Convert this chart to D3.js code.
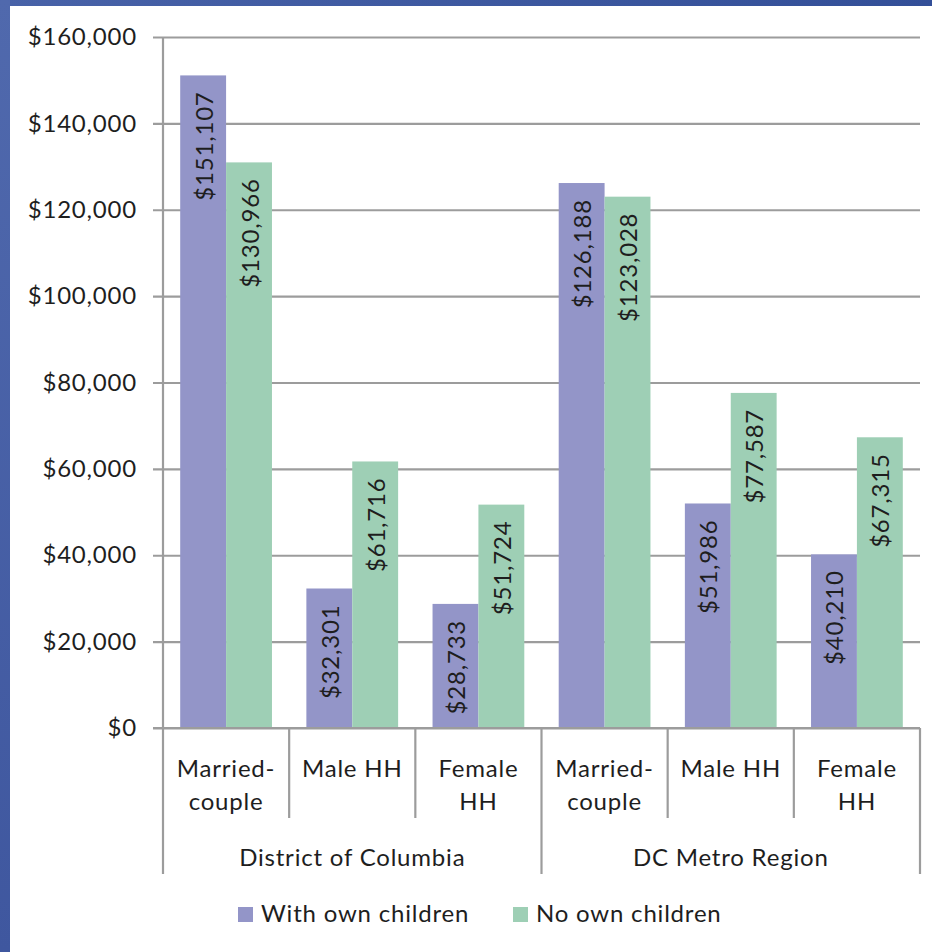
<!DOCTYPE html>
<html>
<head>
<meta charset="utf-8">
<script src="https://cdn.jsdelivr.net/npm/d3@7"></script>
<style>
  html, body { margin: 0; padding: 0; background: #fff; }
  svg { display: block; }
  text { font-family: Lato, "Open Sans", sans-serif; fill: #1e1e1e; letter-spacing: 0.8px; }
</style>
</head>
<body>
<svg id="chart" width="932" height="952"></svg>
<script>
// ---- data ----
const groups = ["District of Columbia", "DC Metro Region"];
const categories = ["Married-couple", "Male HH", "Female HH"];
const categoryLines = [["Married-", "couple"], ["Male HH"], ["Female", "HH"]];
const seriesNames = ["With own children", "No own children"];
const withChildren = [151107, 32301, 28733, 126188, 51986, 40210];
const noChildren   = [130966, 61716, 51724, 123028, 77587, 67315];
const yTicks = [0, 20000, 40000, 60000, 80000, 100000, 120000, 140000, 160000];

// ---- layout ----
const W = 932, H = 952;
const plotL = 163, plotR = 920, plotT = 37, plotB = 728;
const colors = ["#9395c8", "#9ecfb5"];
const gridColor = "#9c9c9c";
const FS = 24;

const svg = d3.select("#chart");

// background frame (blue border)
const defs = svg.append("defs");
const lg = defs.append("linearGradient").attr("id", "leftG").attr("x1", 0).attr("y1", 0).attr("x2", 0).attr("y2", 1);
lg.append("stop").attr("offset", "0%").attr("stop-color", "#5069ad");
lg.append("stop").attr("offset", "100%").attr("stop-color", "#3f579f");
const tg = defs.append("linearGradient").attr("id", "topG").attr("x1", 0).attr("y1", 0).attr("x2", 1).attr("y2", 0);
tg.append("stop").attr("offset", "0%").attr("stop-color", "#4862a8");
tg.append("stop").attr("offset", "100%").attr("stop-color", "#334f98");
svg.append("rect").attr("x", 0).attr("y", 0).attr("width", W).attr("height", H).attr("fill", "#fff");
svg.append("rect").attr("x", 0).attr("y", 0).attr("width", W).attr("height", 6).attr("fill", "url(#topG)");
svg.append("rect").attr("x", 0).attr("y", 0).attr("width", 10).attr("height", H).attr("fill", "url(#leftG)");

// ---- scales ----
const y = d3.scaleLinear().domain([0, 160000]).range([plotB, plotT]);
const keys = [];
groups.forEach(g => categories.forEach(c => keys.push(g + "|" + c)));
const xCat = d3.scaleBand().domain(keys).range([plotL, plotR]).padding(0);
const xSer = d3.scaleBand().domain(seriesNames).range([0, xCat.bandwidth()]).paddingInner(0).paddingOuter(0.375);
const xGroup = d3.scaleBand().domain(groups).range([plotL, plotR]).padding(0);

// ---- gridlines + y axis ----
const fmt = d => "$" + d3.format(",")(d);
const yAxis = d3.axisLeft(y).tickValues(yTicks).tickFormat(fmt)
  .tickSizeInner(-(plotR - plotL)).tickSizeOuter(0).tickPadding(26);
const gy = svg.append("g").attr("transform", `translate(${plotL},0)`).call(yAxis);
gy.select(".domain").remove();
gy.selectAll(".tick line").attr("stroke", gridColor).attr("stroke-width", 2.2).attr("x1", -10);
gy.selectAll(".tick text").attr("font-size", FS).attr("fill", "#1e1e1e").attr("font-family", "Lato, sans-serif");

// ---- bars ----
const rows = keys.map((k, i) => ({ key: k, vals: [withChildren[i], noChildren[i]] }));
const barG = svg.append("g");
rows.forEach(r => {
  r.vals.forEach((v, si) => {
    const x0 = xCat(r.key) + xSer(seriesNames[si]);
    barG.append("rect")
      .attr("x", x0).attr("y", y(v))
      .attr("width", xSer.bandwidth()).attr("height", y(0) - y(v))
      .attr("fill", colors[si]);
    barG.append("text")
      .attr("transform", `translate(${x0 + xSer.bandwidth() / 2},${y(v) + 16}) rotate(-90)`)
      .attr("text-anchor", "end").attr("dominant-baseline", "central")
      .attr("font-size", FS)
      .text(fmt(v));
  });
});

// ---- axes lines ----
svg.append("line").attr("x1", plotL - 10).attr("x2", plotR).attr("y1", plotB).attr("y2", plotB)
  .attr("stroke", gridColor).attr("stroke-width", 2.2);
svg.append("line").attr("x1", plotL).attr("x2", plotL).attr("y1", plotT).attr("y2", 874)
  .attr("stroke", gridColor).attr("stroke-width", 2.2);

// category dividers + labels
keys.forEach((k, i) => {
  const xr = xCat(k) + xCat.bandwidth();
  const isGroupEnd = (i % categories.length) === categories.length - 1;
  svg.append("line").attr("x1", xr).attr("x2", xr).attr("y1", plotB).attr("y2", isGroupEnd ? 874 : 818)
    .attr("stroke", gridColor).attr("stroke-width", 2.2);
  const lines = categoryLines[i % categories.length];
  const cx = xCat(k) + xCat.bandwidth() / 2;
  const t = svg.append("text").attr("x", cx).attr("y", 777)
    .attr("text-anchor", "middle").attr("font-size", FS);
  lines.forEach((ln, li) => {
    t.append("tspan").attr("x", cx).attr("dy", li === 0 ? 0 : 33).text(ln);
  });
});

// group labels
groups.forEach(g => {
  svg.append("text").attr("x", xGroup(g) + xGroup.bandwidth() / 2).attr("y", 866)
    .attr("text-anchor", "middle").attr("font-size", FS).text(g);
});

// ---- legend ----
const legendX = [238, 513];
seriesNames.forEach((s, i) => {
  svg.append("rect").attr("x", legendX[i]).attr("y", 907).attr("width", 15).attr("height", 15).attr("fill", colors[i]);
  svg.append("text").attr("x", legendX[i] + 23).attr("y", 922).attr("font-size", FS).text(s);
});
</script>
</body>
</html>
